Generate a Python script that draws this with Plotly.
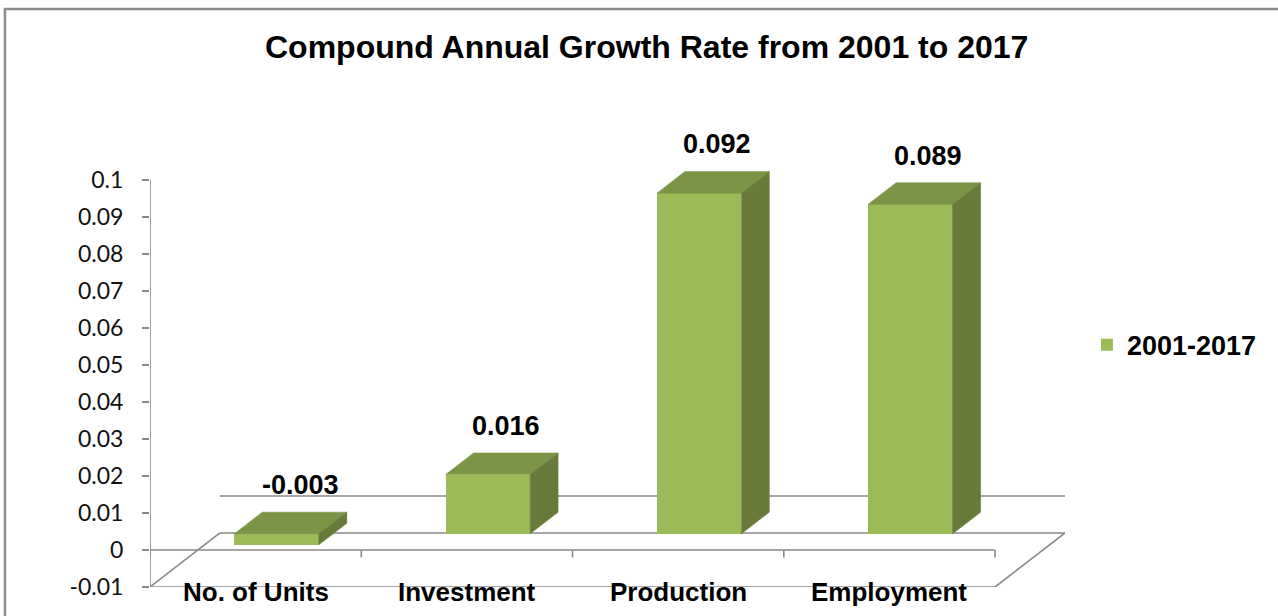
import plotly.graph_objects as go

# ---- data ----
categories = ["No. of Units", "Investment", "Production", "Employment"]
cagr_values = [-0.003, 0.016, 0.092, 0.089]
series_name = "2001-2017"
ytick_values = [-0.01, 0, 0.01, 0.02, 0.03, 0.04, 0.05, 0.06, 0.07, 0.08, 0.09, 0.1]
ytick_labels = ["-0.01", "0", "0.01", "0.02", "0.03", "0.04", "0.05", "0.06", "0.07", "0.08", "0.09", "0.1"]
title_text = "Compound Annual Growth Rate from 2001 to 2017"

# ---- pseudo-3D geometry (style) ----
DX = 0.331      # depth shift in category units
DY = 0.0146     # depth shift in value units
F0, F1 = 0.30, 0.70   # bar front / back depth fractions
HW = 0.20       # half bar width
YMIN, YMAX = -0.01, 0.1

FRONT = "#9BBB59"
TOP = "#7B9446"
SIDE = "#687A39"
GRID = "#898989"

n = len(categories)
xs = list(range(n))

fig = go.Figure()

# top and side faces
for c, v in zip(xs, cagr_values):
    hi, lo = max(v, 0), min(v, 0)
    fx = c + F0 * DX
    bx = c + F1 * DX
    fy = F0 * DY
    by = F1 * DY
    fig.add_trace(go.Scatter(
        x=[fx - HW, fx + HW, bx + HW, bx - HW, fx - HW],
        y=[hi + fy, hi + fy, hi + by, hi + by, hi + fy],
        fill="toself", fillcolor=TOP, mode="lines",
        line=dict(color=TOP, width=0.5), showlegend=False, hoverinfo="skip"))
    fig.add_trace(go.Scatter(
        x=[fx + HW, fx + HW, bx + HW, bx + HW, fx + HW],
        y=[lo + fy, hi + fy, hi + by, lo + by, lo + fy],
        fill="toself", fillcolor=SIDE, mode="lines",
        line=dict(color=SIDE, width=0.5), showlegend=False, hoverinfo="skip"))

# front faces
fig.add_trace(go.Bar(
    x=[c + F0 * DX for c in xs], y=cagr_values, base=F0 * DY,
    width=2 * HW, marker=dict(color=FRONT, line=dict(width=0)),
    name=series_name, showlegend=True))

shapes = []
def seg(x0, y0, x1, y1, layer="below"):
    shapes.append(dict(type="line", xref="x", yref="y", x0=x0, y0=y0, x1=x1, y1=y1,
                       line=dict(color=GRID, width=1.6), layer=layer))

left, right = -0.5, n - 0.5
# value axis line
seg(left, YMIN, left, YMAX)
# floor
seg(left, YMIN, right, YMIN)
seg(left + DX, YMIN + DY, right + DX, YMIN + DY)
seg(left, YMIN, left + DX, YMIN + DY)
seg(right, YMIN, right + DX, YMIN + DY)
# back wall zero line
seg(left + DX, DY, right + DX, DY)
# front category axis at zero with tick marks
seg(left, 0, right, 0)
for k in range(n + 1):
    seg(left + k, 0, left + k, -0.002)

# chart border
shapes.append(dict(type="rect", xref="paper", yref="paper",
                   x0=-0.1585, y0=-0.6, x1=1.5, y1=1.3697,
                   line=dict(color="#8C8C8C", width=2.5), layer="below"))

annotations = []
for c, v in zip(xs, cagr_values):
    annotations.append(dict(
        x=c + 0.5 * DX, y=max(v, 0) + 0.5 * DY, xref="x", yref="y",
        text=f"{v:.3f}", showarrow=False, yanchor="middle", yshift=38,
        xshift=(10 if v < 0 else 4),
        font=dict(family="Liberation Sans", size=27, color="#000000", weight="bold")))
for c, name in zip(xs, categories):
    annotations.append(dict(
        x=c, y=YMIN, xref="x", yref="y", text=name, showarrow=False,
        yanchor="middle", yshift=-5,
        font=dict(family="Liberation Sans", size=26, color="#000000", weight="bold")))

fig.update_layout(
    width=1278, height=616,
    margin=dict(l=150, r=213, t=165, b=29),
    paper_bgcolor="white", plot_bgcolor="white",
    title=dict(text=title_text, x=0.506, xanchor="center", y=0.924, yanchor="middle",
               font=dict(family="Liberation Sans", size=32, color="#000000", weight="bold")),
    xaxis=dict(range=[left, right + DX], showgrid=False, zeroline=False,
               showticklabels=False, ticks="", showline=False, fixedrange=True),
    yaxis=dict(range=[YMIN, 0.104], tickvals=ytick_values, ticktext=ytick_labels,
               showgrid=False, zeroline=False, showline=False,
               ticks="outside", ticklen=7, tickwidth=1.6, tickcolor=GRID,
               ticklabelstandoff=14,
               tickfont=dict(family="Lato", size=23, color="#111111")),
    legend=dict(x=1.024, xanchor="left", y=0.573, yanchor="middle",
                font=dict(family="Liberation Sans", size=27, color="#000000", weight="bold"),
                bgcolor="rgba(0,0,0,0)", itemwidth=30),
    shapes=shapes, annotations=annotations,
    bargap=0, showlegend=True,
)

fig.write_html("out.html")
